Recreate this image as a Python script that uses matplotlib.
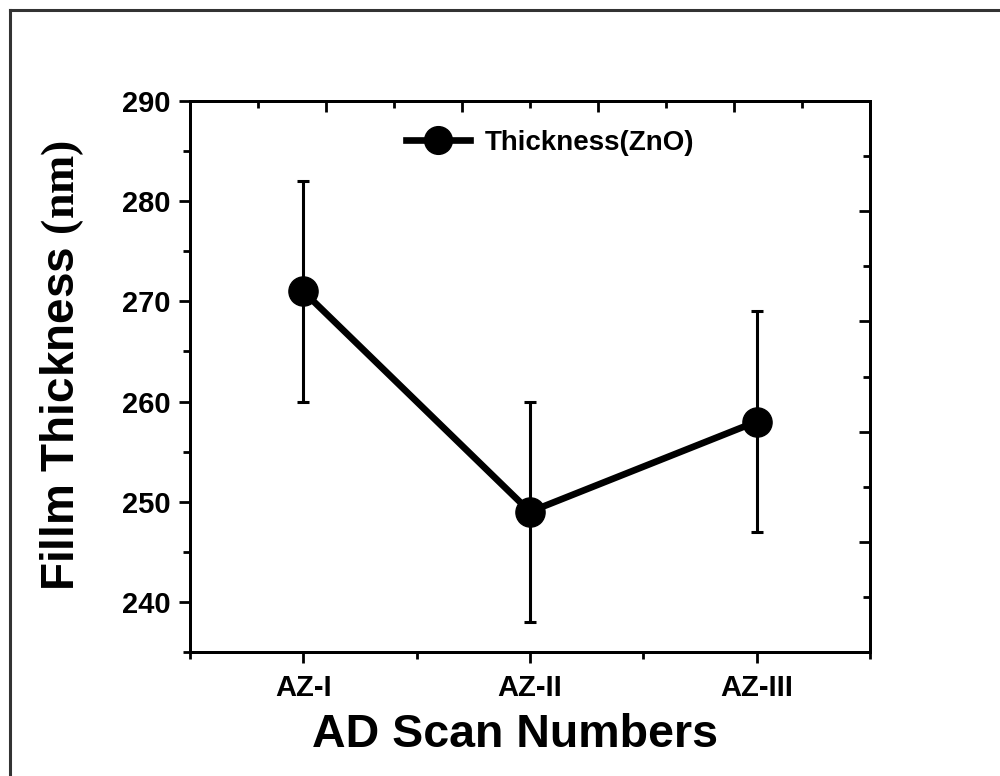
import matplotlib.pyplot as plt
from matplotlib.lines import Line2D
from matplotlib.ticker import MultipleLocator, FixedLocator, NullFormatter

plt.rcParams['font.family'] = ['Liberation Sans', 'DejaVu Sans']
plt.rcParams['font.weight'] = 'bold'
plt.rcParams['mathtext.fontset'] = 'custom'
plt.rcParams['mathtext.bf'] = 'Liberation Serif:bold'
plt.rcParams['mathtext.rm'] = 'Liberation Serif'

# film thickness per scan, with error
scans = ['AZ-I', 'AZ-II', 'AZ-III']
thickness = [271, 249, 258]
thickness_err = [11, 11, 11]
yticks = [240, 250, 260, 270, 280, 290]

fig = plt.figure(figsize=(10, 7.76), dpi=100)
ax = fig.add_axes([0.19, 0.1598, 0.68, 0.71])

xpos = list(range(len(scans)))
ax.errorbar(xpos, thickness, yerr=thickness_err, fmt='none', ecolor='black',
            elinewidth=2.2, capsize=4, capthick=2.2, zorder=2)
ax.plot(xpos, thickness, color='black', lw=4.8, marker='o', ms=21,
        zorder=3, label='Thickness(ZnO)')

ax.set_xlim(-0.5, 2.5)
ax.set_ylim(235, 290)
ax.set_xticks(xpos)
ax.set_xticklabels(scans)
ax.xaxis.set_minor_locator(FixedLocator([-0.5, 0.5, 1.5, 2.5]))
ax.set_yticks(yticks)
ax.yaxis.set_minor_locator(MultipleLocator(5))

for sp in ax.spines.values():
    sp.set_linewidth(2)
ax.tick_params(which='major', direction='out', length=8, width=2,
               labelsize=21, pad=6)
ax.tick_params(which='minor', direction='out', length=5, width=2)
ax.tick_params(axis='x', which='major', pad=8)

ax.set_xlabel('AD Scan Numbers', fontsize=33.5, fontweight='bold')
ax.xaxis.set_label_coords(0.478, -0.11)
ax.set_ylabel(r'Fillm Thickness $\mathbf{(nm)}$', fontsize=33,
              fontweight='bold')
ax.yaxis.set_label_coords(-0.153, 0.52)

# unlabeled right and top axes
axr = ax.twinx()
axr.set_ylim(0, 5)
axr.yaxis.set_major_locator(MultipleLocator(1))
axr.yaxis.set_minor_locator(MultipleLocator(0.5))
axr.yaxis.set_major_formatter(NullFormatter())
axr.tick_params(which='major', direction='in', length=8, width=2)
axr.tick_params(which='minor', direction='in', length=5, width=2)

axt = ax.twiny()
axt.set_xlim(0, 5)
axt.xaxis.set_major_locator(MultipleLocator(1))
axt.xaxis.set_minor_locator(MultipleLocator(0.5))
axt.xaxis.set_major_formatter(NullFormatter())
axt.tick_params(which='major', direction='in', length=8, width=2)
axt.tick_params(which='minor', direction='in', length=5, width=2)
for a in (axr, axt):
    for sp in a.spines.values():
        sp.set_linewidth(2)

ax.legend(loc='upper center', bbox_to_anchor=(0.53, 0.993), frameon=False,
          fontsize=20, handlelength=2.3, handletextpad=0.55, markerscale=0.95)

# outer frame lines
fig.add_artist(Line2D([0.0095, 0.0095], [0.0, 0.987], transform=fig.transFigure,
                      color='#333333', lw=2.2))
fig.add_artist(Line2D([0.0095, 1.0], [0.987, 0.987], transform=fig.transFigure,
                      color='#333333', lw=2.2))

fig.savefig('out.png', dpi=100)
